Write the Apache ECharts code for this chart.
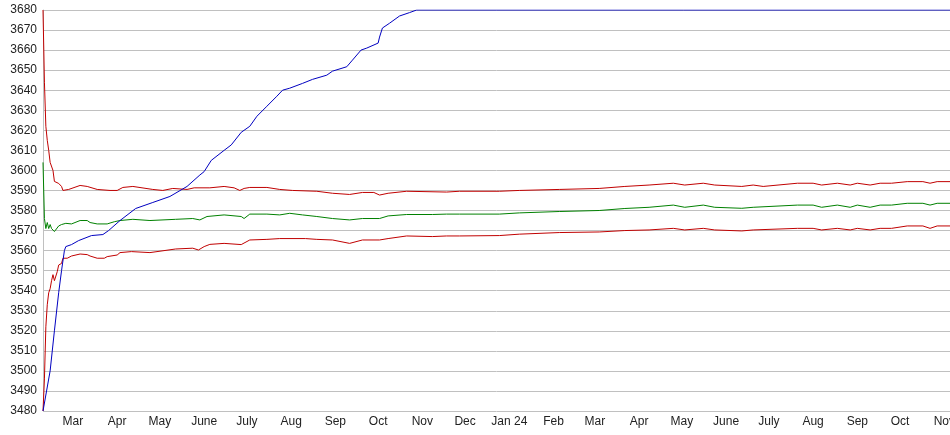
<!DOCTYPE html>
<html>
<head>
<meta charset="utf-8">
<script src="https://cdn.jsdelivr.net/npm/echarts@6/dist/echarts.min.js"></script>
<style>
html,body{margin:0;padding:0;background:#fff;}
#chart{width:950px;height:435px;}
</style>
</head>
<body>
<div id="chart"></div>
<script>
// X axis: month starts and their labels
const monthStarts = ['2023-03-01','2023-04-01','2023-05-01','2023-06-01','2023-07-01','2023-08-01','2023-09-01','2023-10-01','2023-11-01','2023-12-01','2024-01-01','2024-02-01','2024-03-01','2024-04-01','2024-05-01','2024-06-01','2024-07-01','2024-08-01','2024-09-01','2024-10-01','2024-11-01'];
const monthLabels = ['Mar','Apr','May','June','July','Aug','Sep','Oct','Nov','Dec','Jan 24','Feb','Mar','Apr','May','June','July','Aug','Sep','Oct','Nov'];
const xMin = '2023-02-08';
const xMax = '2024-11-05';
const yMin = 3480, yMax = 3680, yStep = 10;

// Blue: cumulative rising line
const blueSeries = [
['2023-02-08',3480],['2023-02-13',3500],['2023-02-16',3520],['2023-02-19',3539],['2023-02-21',3550],
['2023-02-23',3560],['2023-02-24',3562],['2023-02-28',3563],['2023-03-05',3565],['2023-03-14',3567.5],
['2023-03-22',3568],['2023-03-26',3570],['2023-04-03',3575],['2023-04-14',3581],['2023-04-26',3584],
['2023-05-08',3587],['2023-05-20',3592],['2023-05-29',3597.7],['2023-06-01',3599.4],['2023-06-06',3605],
['2023-06-15',3610],['2023-06-20',3612.7],['2023-06-27',3619],['2023-07-03',3622],['2023-07-08',3627],
['2023-07-15',3632],['2023-07-22',3637],['2023-07-26',3640],['2023-07-31',3641],['2023-08-09',3643.4],
['2023-08-16',3645.4],['2023-08-26',3647.5],['2023-08-30',3649.5],['2023-09-09',3651.7],['2023-09-13',3655],
['2023-09-19',3660],['2023-09-23',3661],['2023-10-01',3663.5],['2023-10-02',3666.5],['2023-10-04',3671],
['2023-10-09',3673.4],['2023-10-16',3677],['2023-10-23',3678.7],['2023-10-28',3680],['2024-11-05',3680]
];

// Upper red
const upperRed = [
['2023-02-08',3680],['2023-02-09',3644],['2023-02-10',3622],['2023-02-11',3615],['2023-02-12',3610],
['2023-02-13',3604],['2023-02-15',3600],['2023-02-16',3594.5],['2023-02-19',3593.5],['2023-02-21',3592],
['2023-02-22',3590],['2023-02-26',3590.5],['2023-03-06',3592.5],['2023-03-11',3592],['2023-03-18',3590.5],
['2023-03-27',3590],['2023-04-01',3590],['2023-04-05',3591.5],['2023-04-12',3592],['2023-04-26',3590.5],
['2023-05-03',3590],['2023-05-10',3591],['2023-05-20',3590.5],['2023-05-25',3591.3],['2023-06-05',3591.3],
['2023-06-15',3592],['2023-06-22',3591.3],['2023-06-26',3590],['2023-06-29',3591],['2023-07-03',3591.5],
['2023-07-15',3591.5],['2023-07-24',3590.5],['2023-08-02',3590],['2023-08-19',3589.6],['2023-08-30',3588.6],
['2023-09-11',3588],['2023-09-20',3589],['2023-09-28',3589],['2023-10-02',3587.7],['2023-10-08',3588.6],
['2023-10-21',3589.6],['2023-11-18',3589.2],['2023-11-27',3589.6],['2023-12-25',3589.6],['2024-01-08',3590],
['2024-02-05',3590.5],['2024-03-04',3591],['2024-03-22',3592],['2024-04-08',3592.7],['2024-04-25',3593.6],
['2024-05-03',3592.7],['2024-05-16',3593.6],['2024-05-24',3592.7],['2024-06-12',3592],['2024-06-20',3592.7],
['2024-06-27',3592],['2024-07-21',3593.6],['2024-08-01',3593.6],['2024-08-07',3592.7],['2024-08-18',3593.6],
['2024-08-27',3592.7],['2024-09-01',3593.6],['2024-09-10',3592.7],['2024-09-17',3593.6],['2024-09-25',3593.6],
['2024-10-06',3594.4],['2024-10-17',3594.4],['2024-10-22',3593.6],['2024-10-27',3594.4],['2024-11-05',3594.4]
];

// Green middle
const greenMid = [
['2023-02-08',3604],['2023-02-09',3576],['2023-02-10',3571],['2023-02-11',3574],['2023-02-12',3571],
['2023-02-13',3573],['2023-02-14',3571],['2023-02-16',3569.5],['2023-02-19',3572.3],['2023-02-21',3573],
['2023-02-24',3573.6],['2023-02-28',3573.3],['2023-03-06',3575],['2023-03-11',3575],['2023-03-13',3574],
['2023-03-18',3573.3],['2023-03-25',3573.3],['2023-03-30',3574.4],['2023-04-03',3575],['2023-04-12',3575.6],
['2023-04-24',3575],['2023-05-12',3575.6],['2023-05-24',3576],['2023-05-29',3575.3],['2023-06-03',3577],
['2023-06-15',3577.8],['2023-06-27',3577],['2023-06-29',3576],['2023-07-03',3578.2],['2023-07-15',3578.2],
['2023-07-24',3577.8],['2023-07-31',3578.6],['2023-08-09',3577.8],['2023-08-19',3577],['2023-08-30',3576],
['2023-09-11',3575.3],['2023-09-20',3576],['2023-10-02',3576],['2023-10-08',3577.3],['2023-10-21',3578],
['2023-11-08',3578],['2023-11-18',3578.2],['2023-11-27',3578.2],['2023-12-25',3578.2],['2024-01-08',3578.8],
['2024-02-05',3579.5],['2024-03-04',3580],['2024-03-22',3581],['2024-04-08',3581.6],['2024-04-25',3582.7],
['2024-05-03',3581.6],['2024-05-16',3582.7],['2024-05-24',3581.6],['2024-06-12',3581.1],['2024-06-20',3581.6],
['2024-07-21',3582.7],['2024-08-01',3582.7],['2024-08-07',3581.6],['2024-08-18',3582.7],['2024-08-27',3581.6],
['2024-09-01',3582.7],['2024-09-10',3581.6],['2024-09-17',3582.7],['2024-09-25',3582.7],['2024-10-06',3583.6],
['2024-10-17',3583.6],['2024-10-22',3582.7],['2024-10-27',3583.6],['2024-11-05',3583.6]
];

// Lower red
const lowerRed = [
['2023-02-08',3480],['2023-02-09',3496],['2023-02-10',3522],['2023-02-11',3533],['2023-02-12',3539],
['2023-02-13',3541],['2023-02-14',3545],['2023-02-15',3548],['2023-02-16',3545],['2023-02-18',3549.5],
['2023-02-19',3552.8],['2023-02-21',3553.6],['2023-02-22',3556.2],['2023-02-23',3557],['2023-02-25',3556.2],
['2023-02-28',3557.3],['2023-03-06',3558.3],['2023-03-11',3558],['2023-03-13',3557.3],['2023-03-18',3556.2],
['2023-03-23',3556.2],['2023-03-25',3557],['2023-04-01',3557.8],['2023-04-03',3559],['2023-04-11',3559.5],
['2023-04-24',3559],['2023-05-12',3560.8],['2023-05-24',3561.2],['2023-05-28',3560.3],['2023-06-01',3562],
['2023-06-05',3563.1],['2023-06-15',3563.6],['2023-06-27',3563],['2023-07-03',3565.3],['2023-07-15',3565.6],
['2023-07-24',3566],['2023-08-11',3566],['2023-08-19',3565.6],['2023-08-30',3565.3],['2023-09-11',3563.6],
['2023-09-20',3565.3],['2023-10-02',3565.3],['2023-10-08',3566],['2023-10-21',3567.3],['2023-11-08',3567],
['2023-11-18',3567.3],['2023-11-27',3567.3],['2023-12-25',3567.5],['2024-01-08',3568.2],['2024-02-05',3569],
['2024-03-04',3569.3],['2024-03-22',3570],['2024-04-08',3570.3],['2024-04-25',3571.1],['2024-05-03',3570.3],
['2024-05-16',3571.1],['2024-05-24',3570.3],['2024-06-12',3569.8],['2024-06-20',3570.3],['2024-07-21',3571.1],
['2024-08-01',3571.1],['2024-08-07',3570.3],['2024-08-18',3571.1],['2024-08-27',3570.3],['2024-09-01',3571.1],
['2024-09-10',3570.3],['2024-09-17',3571.1],['2024-09-25',3571.1],['2024-10-06',3572.3],['2024-10-17',3572.3],
['2024-10-22',3571.1],['2024-10-27',3572.3],['2024-11-05',3572.3]
];

function ts(d) { return Date.UTC(+d.slice(0,4), +d.slice(5,7) - 1, +d.slice(8,10)); }
function toXY(arr) { return arr.map(p => [ts(p[0]), p[1]]); }

const labelMap = {};
monthStarts.forEach((d, i) => { labelMap[ts(d)] = monthLabels[i]; });

const chart = echarts.init(document.getElementById('chart'), null, {renderer: 'canvas'});
const lineCommon = {type: 'line', showSymbol: false, symbol: 'none', animation: false};
chart.setOption({
  animation: false,
  backgroundColor: '#ffffff',
  grid: {left: 43, right: 0, top: 10, bottom: 24, containLabel: false, outerBoundsMode: 'none'},
  xAxis: {
    type: 'value',
    min: ts(xMin),
    max: ts(xMax),
    axisLine: {show: false},
    axisTick: {show: false},
    splitLine: {show: false},
    axisLabel: {
      customValues: monthStarts.map(ts),
      formatter: function (v) { return labelMap[v] || ''; },
      fontFamily: 'Liberation Sans, Arial, sans-serif',
      fontSize: 12,
      color: '#222',
      margin: 5,
      showMinLabel: true,
      showMaxLabel: true
    }
  },
  yAxis: {
    type: 'value',
    min: yMin, max: yMax, interval: yStep,
    axisLine: {show: true, lineStyle: {color: '#c0c0c0', width: 1}},
    axisTick: {show: false},
    splitLine: {show: true, lineStyle: {color: '#c0c0c0', width: 1}},
    axisLabel: {
      formatter: function (v) { return String(v); },
      fontFamily: 'Liberation Sans, Arial, sans-serif',
      fontSize: 12,
      color: '#222',
      margin: 6
    }
  },
  series: [
    Object.assign({}, lineCommon, {name: 'upper', data: toXY(upperRed), color: '#c00000', lineStyle: {width: 1, color: '#c00000'}}),
    Object.assign({}, lineCommon, {name: 'mid', data: toXY(greenMid), color: '#008000', lineStyle: {width: 1, color: '#008000'}}),
    Object.assign({}, lineCommon, {name: 'lower', data: toXY(lowerRed), color: '#c00000', lineStyle: {width: 1, color: '#c00000'}}),
    Object.assign({}, lineCommon, {name: 'total', data: toXY(blueSeries), color: '#0000c0', lineStyle: {width: 1, color: '#0000c0'}})
  ]
});
</script>
</body>
</html>
